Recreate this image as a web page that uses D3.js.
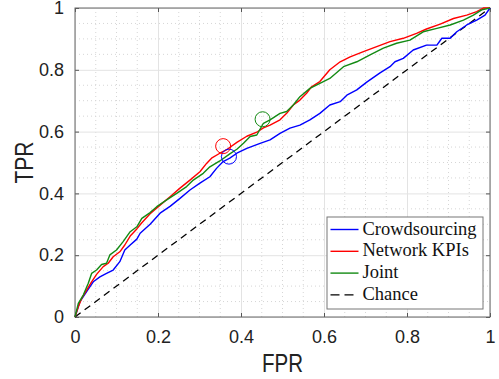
<!DOCTYPE html>
<html>
<head>
<meta charset="utf-8">
<script src="https://d3js.org/d3.v7.min.js"></script>
<style>
  body { margin: 0; background: #fff; }
</style>
</head>
<body>
<div id="roc"></div>
<script>
// ROC data
var crowdFpr = [0, .012, .028, .044, .060, .076, .092, .108, .120, .133, .149, .157, .181, .205, .229, .253, .277, .301, .325, .341, .357, .373, .390, .414, .446, .470, .494, .518, .542, .566, .590, .614, .639, .655, .679, .703, .735, .759, .771, .791, .815, .847, .872, .884, .904, .920, .944, .968, .988, 1];
var crowdTpr = [0, .050, .082, .114, .130, .141, .152, .179, .217, .233, .252, .271, .300, .336, .358, .384, .411, .433, .454, .481, .503, .514, .530, .546, .562, .573, .594, .611, .621, .638, .659, .686, .697, .718, .735, .760, .790, .810, .826, .837, .864, .880, .880, .902, .902, .923, .945, .961, .977, 1];

var kpiFpr = [0, .008, .016, .028, .040, .052, .068, .080, .092, .108, .120, .133, .149, .161, .181, .205, .229, .253, .277, .301, .317, .329, .349, .366, .390, .414, .438, .454, .470, .494, .510, .526, .542, .558, .570, .590, .614, .639, .663, .695, .727, .759, .791, .823, .847, .880, .912, .944, .968, .984, 1];
var kpiTpr = [0, .033, .060, .087, .114, .138, .163, .174, .195, .211, .233, .262, .285, .305, .334, .362, .389, .417, .443, .470, .497, .514, .530, .542, .565, .585, .598, .612, .621, .638, .659, .686, .702, .724, .745, .762, .800, .826, .842, .859, .875, .891, .902, .918, .932, .948, .966, .977, .988, 1, 1];

var jointFpr = [0, .008, .020, .032, .040, .052, .064, .076, .084, .100, .116, .133, .149, .161, .181, .197, .221, .245, .269, .285, .309, .325, .349, .373, .390, .406, .422, .438, .454, .470, .494, .510, .526, .542, .566, .590, .614, .647, .679, .711, .743, .775, .807, .839, .872, .904, .936, .960, .980, 1];
var jointTpr = [0, .044, .071, .109, .141, .152, .170, .174, .201, .217, .244, .276, .292, .319, .338, .357, .379, .400, .422, .443, .465, .486, .505, .528, .543, .562, .584, .589, .627, .638, .659, .665, .686, .713, .740, .756, .772, .810, .826, .848, .870, .886, .896, .923, .934, .945, .961, .977, .994, 1];

var chance = [0, 1];

// operating points (circles)
var opFpr = [0.371, 0.357, 0.452];
var opTpr = [0.519, 0.553, 0.640];

var seriesNames = ["Crowdsourcing", "Network KPIs", "Joint", "Chance"];
var colors = ["#0000ff", "#ff0000", "#138a13", "#000000"];

var majorTicks = [0, 0.2, 0.4, 0.6, 0.8, 1];
var tickLabels = ["0", "0.2", "0.4", "0.6", "0.8", "1"];

// dimensions
var margin = {top: 8, right: 9, bottom: 62, left: 75},
    width = 499 - margin.left - margin.right,
    height = 379 - margin.top - margin.bottom;

var svg = d3.select("#roc")
  .append("svg")
    .attr("width", 499)
    .attr("height", 379);

var canvas = svg.append("g")
    .attr("transform", "translate(" + margin.left + "," + margin.top + ")");

var x = d3.scaleLinear().domain([0, 1]).range([0, width]);
var y = d3.scaleLinear().domain([0, 1]).range([height, 0]);

// minor grid (dotted)
var minor = d3.range(1, 20).map(d => d / 20).filter(d => Math.round(d * 20) % 4 != 0);

canvas.append("g").selectAll("line")
  .data(minor)
  .enter().append("line")
    .attr("x1", d => x(d)).attr("x2", d => x(d))
    .attr("y1", 0).attr("y2", height)
    .attr("stroke", "#d6d6d6")
    .attr("stroke-dasharray", "1,3");

canvas.append("g").selectAll("line")
  .data(minor)
  .enter().append("line")
    .attr("y1", d => y(d)).attr("y2", d => y(d))
    .attr("x1", 0).attr("x2", width)
    .attr("stroke", "#d6d6d6")
    .attr("stroke-dasharray", "1,3");

// major grid
canvas.append("g")
  .call(d3.axisBottom(x).tickValues(majorTicks).tickSize(height).tickFormat(""))
  .call(g => g.select(".domain").remove())
  .selectAll("line").attr("stroke", "#e3e3e3");

canvas.append("g")
  .call(d3.axisRight(y).tickValues(majorTicks).tickSize(width).tickFormat(""))
  .call(g => g.select(".domain").remove())
  .selectAll("line").attr("stroke", "#e3e3e3");

// axes
function styleAxis(g) {
  g.select(".domain").remove();
  g.selectAll("line").attr("stroke", "#555");
  g.selectAll("text")
    .attr("fill", "#222")
    .style("font-family", "'Liberation Sans', Arial, sans-serif")
    .style("font-size", "18px");
}

canvas.append("g")
  .attr("transform", "translate(0," + height + ")")
  .call(d3.axisBottom(x).tickValues(majorTicks).tickFormat((d, i) => tickLabels[i]).tickSizeInner(-4).tickSizeOuter(0).tickPadding(13))
  .call(styleAxis);

canvas.append("g")
  .call(d3.axisLeft(y).tickValues(majorTicks).tickFormat((d, i) => tickLabels[i]).tickSizeInner(-4).tickSizeOuter(0).tickPadding(11))
  .call(styleAxis);

canvas.append("g")
  .call(d3.axisTop(x).tickValues(majorTicks).tickFormat("").tickSizeInner(-4).tickSizeOuter(0))
  .call(styleAxis);

canvas.append("g")
  .attr("transform", "translate(" + width + ",0)")
  .call(d3.axisRight(y).tickValues(majorTicks).tickFormat("").tickSizeInner(-4).tickSizeOuter(0))
  .call(styleAxis);

// box
canvas.append("rect")
  .attr("width", width).attr("height", height)
  .attr("fill", "none")
  .attr("stroke", "#666")
  .attr("stroke-width", 1);

// curves
var line = d3.line().x(d => x(d[0])).y(d => y(d[1]));

var curves = [
  d3.zip(crowdFpr, crowdTpr),
  d3.zip(kpiFpr, kpiTpr),
  d3.zip(jointFpr, jointTpr)
];

canvas.append("path")
  .datum(d3.zip(chance, chance))
  .attr("d", line)
  .attr("fill", "none")
  .attr("stroke", colors[3])
  .attr("stroke-width", 1.3)
  .attr("stroke-dasharray", "7,5");

canvas.selectAll(".curve")
  .data(curves)
  .enter().append("path")
    .attr("class", "curve")
    .attr("d", line)
    .attr("fill", "none")
    .attr("stroke", (d, i) => colors[i])
    .attr("stroke-width", 1.4)
    .attr("stroke-linejoin", "round");

// operating points
canvas.selectAll(".op")
  .data(d3.zip(opFpr, opTpr))
  .enter().append("circle")
    .attr("class", "op")
    .attr("cx", d => x(d[0]))
    .attr("cy", d => y(d[1]))
    .attr("r", 7.5)
    .attr("fill", "none")
    .attr("stroke", (d, i) => colors[i])
    .attr("stroke-width", 1);

// axis labels
svg.append("text")
  .attr("x", margin.left + width / 2)
  .attr("y", 372)
  .attr("text-anchor", "middle")
  .attr("textLength", 41)
  .attr("lengthAdjust", "spacingAndGlyphs")
  .style("font-family", "'Liberation Sans', Arial, sans-serif")
  .style("font-size", "25px")
  .attr("fill", "#222")
  .text("FPR");

svg.append("text")
  .attr("transform", "translate(33," + (margin.top + height / 2) + ")rotate(-90)")
  .attr("text-anchor", "middle")
  .attr("textLength", 42)
  .attr("lengthAdjust", "spacingAndGlyphs")
  .style("font-family", "'Liberation Sans', Arial, sans-serif")
  .style("font-size", "25px")
  .attr("fill", "#222")
  .text("TPR");

// legend
var legend = svg.append("g")
  .attr("transform", "translate(327,217)");

legend.append("rect")
  .attr("width", 156).attr("height", 92)
  .attr("fill", "#fff")
  .attr("stroke", "#777")
  .attr("stroke-width", 1);

var items = legend.selectAll(".item")
  .data(seriesNames)
  .enter().append("g")
    .attr("class", "item")
    .attr("transform", (d, i) => "translate(0," + (12.5 + i * 21.8) + ")");

items.append("line")
  .attr("x1", 3.5).attr("x2", 31.5)
  .attr("stroke", (d, i) => colors[i])
  .attr("stroke-width", 1.4)
  .attr("stroke-dasharray", (d, i) => i == 3 ? "9,5" : null);

items.append("text")
  .attr("x", 35.5)
  .attr("y", 5)
  .style("font-family", "'Liberation Serif', 'Times New Roman', serif")
  .style("font-size", "18.5px")
  .attr("fill", "#111")
  .text(d => d);
</script>
</body>
</html>
